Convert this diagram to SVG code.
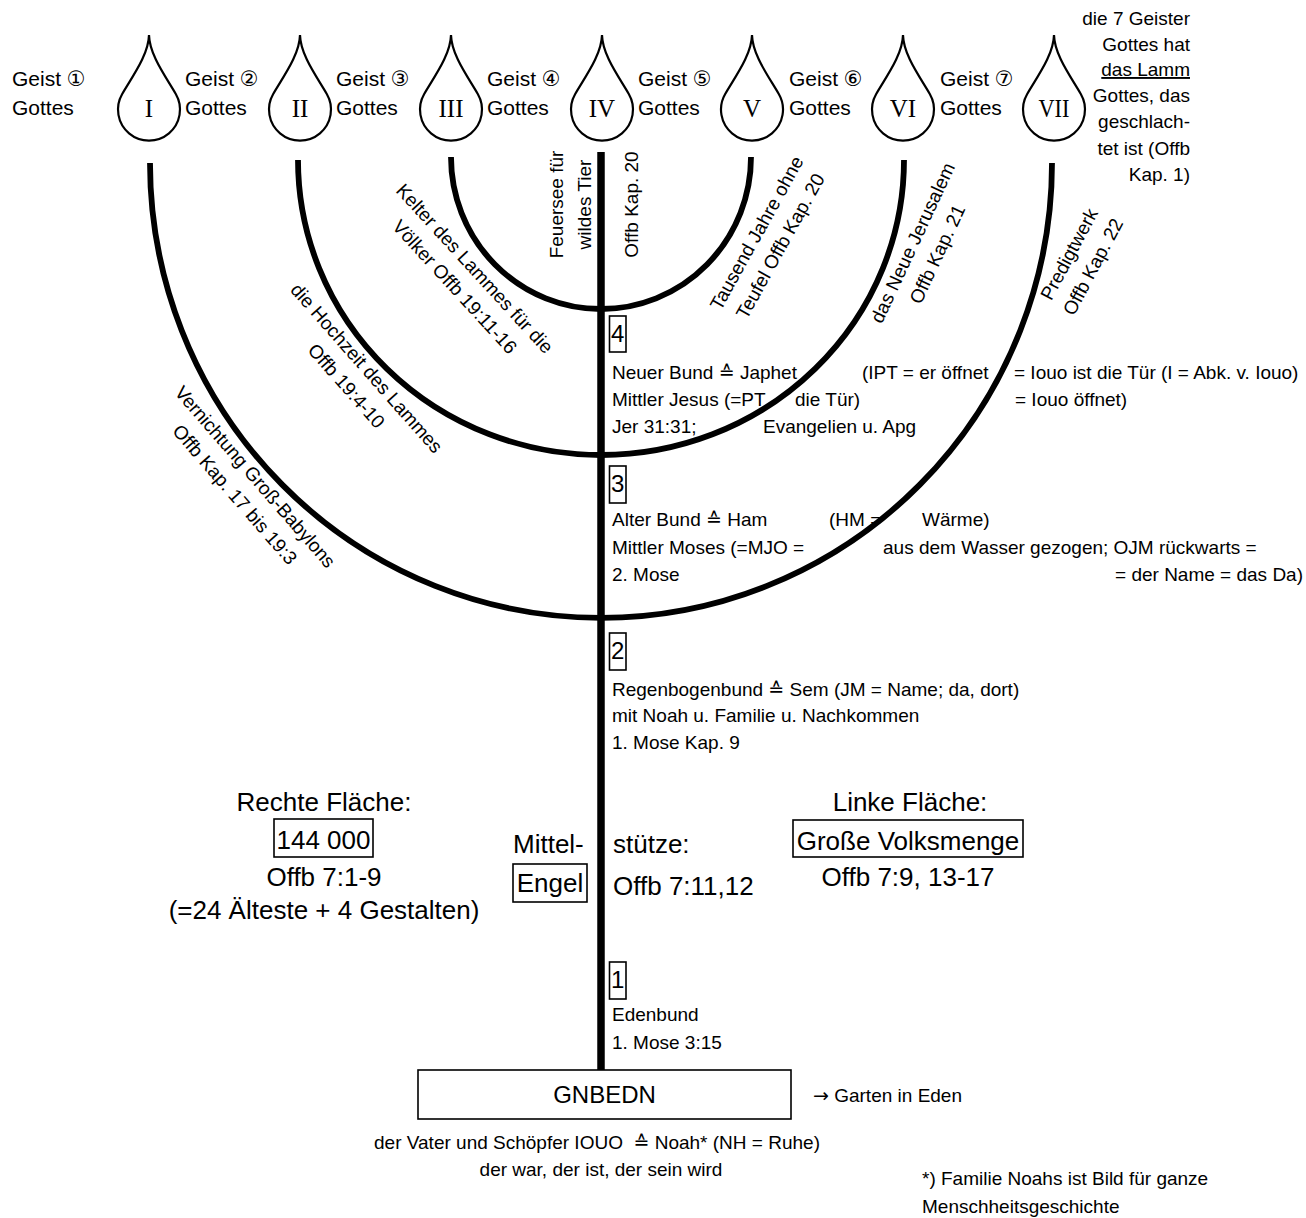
<svg xmlns="http://www.w3.org/2000/svg" width="1306" height="1218" viewBox="0 0 1306 1218">
<style>
text { font-family: "Liberation Sans", "DejaVu Sans", "Noto Sans CJK JP", sans-serif; fill: #000; }
.f19 { font-size: 19px; }
.f21 { font-size: 21px; }
.f26 { font-size: 26px; }
.f24 { font-size: 24px; }
.num { font-size: 24px; text-anchor: middle; }
.rn { font-family: "Liberation Serif", "DejaVu Serif", serif; font-size: 25px; text-anchor: middle; }
.mid { text-anchor: middle; }
.end { text-anchor: end; }
.c { dominant-baseline: central; text-anchor: middle; font-size: 19px; }
.arrow { font-family: "DejaVu Sans", sans-serif; }
.box { fill: none; stroke: #000; stroke-width: 1.6; }
.arm { fill: none; stroke: #000; stroke-width: 5.8; }
.stem { stroke: #000; stroke-width: 7.5; }
.flame { fill: #fff; stroke: #000; stroke-width: 2.2; }
</style>
<defs>
<path id="fl" d="M 0,35 C 0.5,55 16.8,76.7 26.8,94 A 31 31 0 1 1 -26.8,94 C -16.8,76.7 -0.5,55 0,35 Z"/>
</defs>
<rect width="1306" height="1218" fill="#fff"/>

<g id="connectors">
<line class="stem" x1="601" y1="152" x2="601" y2="1070"/>
<path class="arm" d="M 451,157 A 150 152 0 0 0 751,157"/>
<path class="arm" d="M 298,160 A 303 295 0 0 0 904,160"/>
<path class="arm" d="M 150,163 A 451 455 0 0 0 1052,163"/>
</g>

<g id="flame-1"><use href="#fl" class="flame" transform="translate(149,0)"/><text class="rn" x="149" y="117">I</text></g>
<g id="flame-2"><use href="#fl" class="flame" transform="translate(300,0)"/><text class="rn" x="300" y="117">II</text></g>
<g id="flame-3"><use href="#fl" class="flame" transform="translate(451,0)"/><text class="rn" x="451" y="117">III</text></g>
<g id="flame-4"><use href="#fl" class="flame" transform="translate(602,0)"/><text class="rn" x="602" y="117">IV</text></g>
<g id="flame-5"><use href="#fl" class="flame" transform="translate(752,0)"/><text class="rn" x="752" y="117">V</text></g>
<g id="flame-6"><use href="#fl" class="flame" transform="translate(903,0)"/><text class="rn" x="903" y="117">VI</text></g>
<g id="flame-7"><use href="#fl" class="flame" transform="translate(1054,0)"/><text class="rn" x="1054" y="117" textLength="31" lengthAdjust="spacingAndGlyphs">VII</text></g>

<g id="geist-1" class="f21"><text x="12" y="86">Geist ①</text><text x="12" y="115">Gottes</text></g>
<g id="geist-2" class="f21"><text x="185" y="86">Geist ②</text><text x="185" y="115">Gottes</text></g>
<g id="geist-3" class="f21"><text x="336" y="86">Geist ③</text><text x="336" y="115">Gottes</text></g>
<g id="geist-4" class="f21"><text x="487" y="86">Geist ④</text><text x="487" y="115">Gottes</text></g>
<g id="geist-5" class="f21"><text x="638" y="86">Geist ⑤</text><text x="638" y="115">Gottes</text></g>
<g id="geist-6" class="f21"><text x="789" y="86">Geist ⑥</text><text x="789" y="115">Gottes</text></g>
<g id="geist-7" class="f21"><text x="940" y="86">Geist ⑦</text><text x="940" y="115">Gottes</text></g>

<g id="lamm-note" class="f19 end">
<text x="1190" y="25">die 7 Geister</text>
<text x="1190" y="51">Gottes hat</text>
<text x="1190" y="76" text-decoration="underline">das Lamm</text>
<text x="1190" y="102">Gottes, das</text>
<text x="1190" y="128">geschlach-</text>
<text x="1190" y="155">tet ist (Offb</text>
<text x="1190" y="181">Kap. 1)</text>
</g>

<g id="label-vernichtung" transform="translate(245,485.7) rotate(49)"><text class="c" y="-13.5">Vernichtung Groß-Babylons</text><text class="c" y="13.5">Offb Kap. 17 bis 19:3</text></g>
<g id="label-hochzeit" transform="translate(356.5,377) rotate(48.6)"><text class="c" y="-13.5">die Hochzeit des Lammes</text><text class="c" y="13.5">Offb 19:4-10</text></g>
<g id="label-kelter" transform="translate(464.7,277.7) rotate(47.5)"><text class="c" y="-13.5">Kelter des Lammes für die</text><text class="c" y="13.5">Völker Offb 19:11-16</text></g>
<g id="label-feuersee" transform="translate(570,204.5) rotate(-90)"><text class="c" y="-14">Feuersee für</text><text class="c" y="14">wildes Tier</text></g>
<g id="label-offb20" transform="translate(631,204.5) rotate(-90)"><text class="c" y="0">Offb Kap. 20</text></g>
<g id="label-tausend" transform="translate(768.5,239.5) rotate(-61)"><text class="c" y="-13.5">Tausend Jahre ohne</text><text class="c" y="13.5">Teufel Offb Kap. 20</text></g>
<g id="label-jerusalem" transform="translate(925,248.5) rotate(-65)"><text class="c" y="-13.5">das Neue Jerusalem</text><text class="c" y="13.5">Offb Kap. 21</text></g>
<g id="label-predigtwerk" transform="translate(1081,260.5) rotate(-62)"><text class="c" y="-13.5">Predigtwerk</text><text class="c" y="13.5">Offb Kap. 22</text></g>

<g id="bund-4" class="f19">
<rect class="box" x="609.5" y="316" width="16.5" height="36"/>
<text class="num" x="617.8" y="342">4</text>
<text x="612" y="379">Neuer Bund ≙ Japhet</text>
<text x="862" y="379">(IPT = er öffnet</text>
<text x="1014" y="379">= Iouo ist die Tür (I = Abk. v. Iouo)</text>
<text x="612" y="406">Mittler Jesus (=PT</text>
<text x="795" y="406">die Tür)</text>
<text x="1015" y="406">= Iouo öffnet)</text>
<text x="612" y="433">Jer 31:31;</text>
<text x="763" y="433">Evangelien u. Apg</text>
</g>

<g id="bund-3" class="f19">
<rect class="box" x="609.5" y="466" width="16.5" height="37"/>
<text class="num" x="617.8" y="492">3</text>
<text x="612" y="526">Alter Bund ≙ Ham</text>
<text x="829" y="526">(HM =</text>
<text x="922" y="526">Wärme)</text>
<text x="612" y="554">Mittler Moses (=MJO =</text>
<text x="883" y="554">aus dem Wasser gezogen; OJM rückwarts =</text>
<text x="612" y="581">2. Mose</text>
<text x="1303" y="581" class="end">= der Name = das Da)</text>
</g>

<g id="bund-2" class="f19">
<rect class="box" x="609.5" y="633" width="16.5" height="37"/>
<text class="num" x="617.8" y="659">2</text>
<text x="612" y="696">Regenbogenbund ≙ Sem (JM = Name; da, dort)</text>
<text x="612" y="722">mit Noah u. Familie u. Nachkommen</text>
<text x="612" y="749">1. Mose Kap. 9</text>
</g>

<g id="rechte-flaeche" class="f26 mid">
<text x="324" y="811">Rechte Fläche:</text>
<rect class="box" x="274" y="819" width="99" height="38"/>
<text x="323.5" y="849">144 000</text>
<text x="324" y="886">Offb 7:1-9</text>
<text x="324" y="919">(=24 Älteste + 4 Gestalten)</text>
</g>

<g id="mittelstuetze" class="f26">
<text x="513" y="853">Mittel-</text>
<rect class="box" x="513" y="864" width="74" height="38"/>
<text x="550" y="892" class="mid">Engel</text>
<text x="613" y="853">stütze:</text>
<text x="613" y="895">Offb 7:11,12</text>
</g>

<g id="linke-flaeche" class="f26 mid">
<text x="910" y="811">Linke Fläche:</text>
<rect class="box" x="793" y="820" width="230" height="37"/>
<text x="908" y="850">Große Volksmenge</text>
<text x="908" y="886">Offb 7:9, 13-17</text>
</g>

<g id="bund-1" class="f19">
<rect class="box" x="609.5" y="962" width="16.5" height="37"/>
<text class="num" x="617.8" y="988">1</text>
<text x="612" y="1021">Edenbund</text>
<text x="612" y="1049">1. Mose 3:15</text>
</g>

<g id="gnbedn">
<rect class="box" x="418" y="1070" width="373" height="49"/>
<text class="f24 mid" x="604.5" y="1103">GNBEDN</text>
<text class="f19" x="813" y="1102"><tspan class="arrow">→</tspan> Garten in Eden</text>
</g>

<g id="vater" class="f19 mid">
<text x="597" y="1149">der Vater und Schöpfer IOUO&#160; ≙ Noah* (NH = Ruhe)</text>
<text x="601" y="1176">der war, der ist, der sein wird</text>
</g>

<g id="fussnote" class="f19">
<text x="922" y="1185">*) Familie Noahs ist Bild für ganze</text>
<text x="922" y="1213">Menschheitsgeschichte</text>
</g>
</svg>
